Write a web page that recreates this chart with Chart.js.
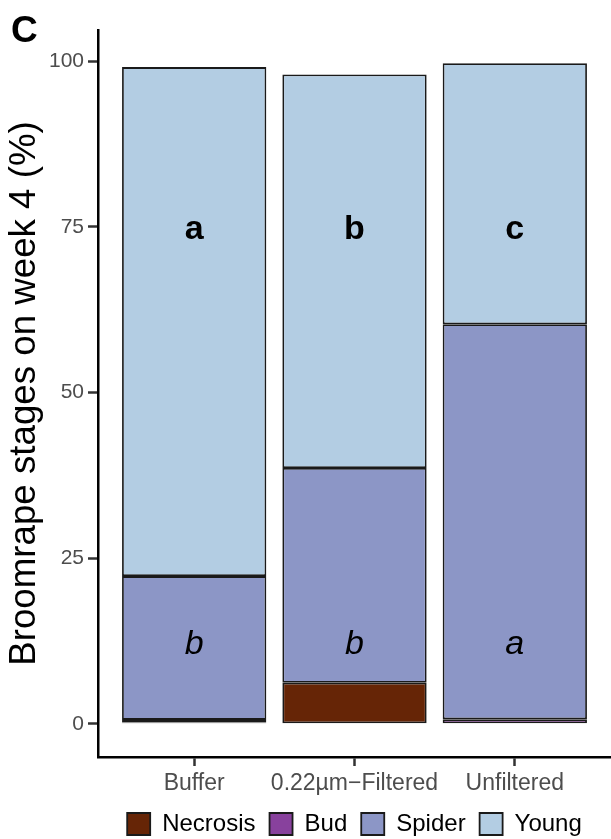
<!DOCTYPE html>
<html>
<head>
<meta charset="utf-8">
<script src="https://cdn.jsdelivr.net/npm/chart.js@4"></script>
<style>
  body { margin: 0; background: #fff; }
  #wrap { width: 611px; height: 839px; position: relative; }
</style>
</head>
<body>
<div id="wrap"><canvas id="stages"></canvas></div>
<script>
const categories = ['Buffer', '0.22\u00b5m\u2212Filtered', 'Unfiltered'];
const necrosis = [0.2, 6.2, 0];
const bud = [0.4, 0, 0.7];
const spider = [21.7, 32.4, 59.6];
const young = [76.8, 59.4, 39.4];
const yTicks = [0, 25, 50, 75, 100];
const youngLetters = ['a', 'b', 'c'];
const spiderLetters = ['b', 'b', 'a'];

const FONT = "'Liberation Sans', Arial, sans-serif";

const toPoints = arr => arr.map((v, i) => ({ x: i + 1, y: v }));

function stage(label, values, color) {
    return {
        label: label,
        data: toPoints(values),
        backgroundColor: color,
        borderColor: '#1a1a1a',
        borderWidth: 1.8,
        borderSkipped: false
    };
}

// letters over the bars + panel tag
const letters = {
    id: 'letters',
    afterDatasetsDraw(chart) {
        const { ctx, scales: { x, y } } = chart;
        ctx.save();
        ctx.fillStyle = '#000';
        ctx.textAlign = 'center';
        ctx.textBaseline = 'alphabetic';
        ctx.font = 'bold 34px ' + FONT;
        youngLetters.forEach((t, i) => ctx.fillText(t, x.getPixelForValue(i + 1), y.getPixelForValue(73.2)));
        ctx.font = 'italic 34px ' + FONT;
        spiderLetters.forEach((t, i) => ctx.fillText(t, x.getPixelForValue(i + 1), y.getPixelForValue(10.5)));
        ctx.textAlign = 'left';
        ctx.font = 'bold 37px ' + FONT;
        ctx.fillText('C', 11, 42);
        ctx.restore();
    }
};

new Chart(document.getElementById('stages'), {
    type: 'bar',
    data: {
        datasets: [
            stage('Necrosis', necrosis, '#662506'),
            stage('Bud', bud, '#88419D'),
            stage('Spider', spider, '#8C96C6'),
            stage('Young', young, '#B3CDE3')
        ]
    },
    options: {
        responsive: true,
        maintainAspectRatio: false,
        animation: false,
        layout: { padding: { top: 30, left: 0, right: 0, bottom: -7 } },
        datasets: { bar: { barPercentage: 0.9, categoryPercentage: 1 } },
        scales: {
            x: {
                type: 'linear',
                stacked: true,
                offset: false,
                min: 0.4,
                max: 3.6,
                afterBuildTicks: s => { s.ticks = categories.map((c, i) => ({ value: i + 1 })); },
                afterFit: s => { s.height = 41; },
                grid: { offset: false, drawOnChartArea: false, tickLength: 9, tickColor: '#333', tickWidth: 2.5 },
                border: { color: '#000', width: 2.5 },
                ticks: {
                    padding: 4,
                    color: '#4D4D4D',
                    font: { family: FONT, size: 23 },
                    callback: v => categories[v - 1]
                }
            },
            y: {
                stacked: true,
                min: -5,
                max: 104.7,
                afterBuildTicks: s => { s.ticks = yTicks.map(v => ({ value: v })); },
                afterFit: s => { s.width = 98; },
                grid: { drawOnChartArea: false, tickLength: 10, tickColor: '#333', tickWidth: 2.5 },
                border: { color: '#000', width: 2.5 },
                ticks: {
                    padding: 4,
                    color: '#4D4D4D',
                    font: { family: FONT, size: 21 }
                },
                title: {
                    display: true,
                    text: 'Broomrape stages on week 4 (%)',
                    color: '#000',
                    font: { family: FONT, size: 36.7 },
                    padding: { top: 3, bottom: 0 }
                }
            }
        },
        plugins: {
            legend: {
                position: 'bottom',
                fullSize: false,
                labels: {
                    boxWidth: 23,
                    boxHeight: 22,
                    padding: 14,
                    color: '#000',
                    font: { family: FONT, size: 24 }
                }
            },
            tooltip: { enabled: false }
        }
    },
    plugins: [letters]
});
</script>
</body>
</html>
